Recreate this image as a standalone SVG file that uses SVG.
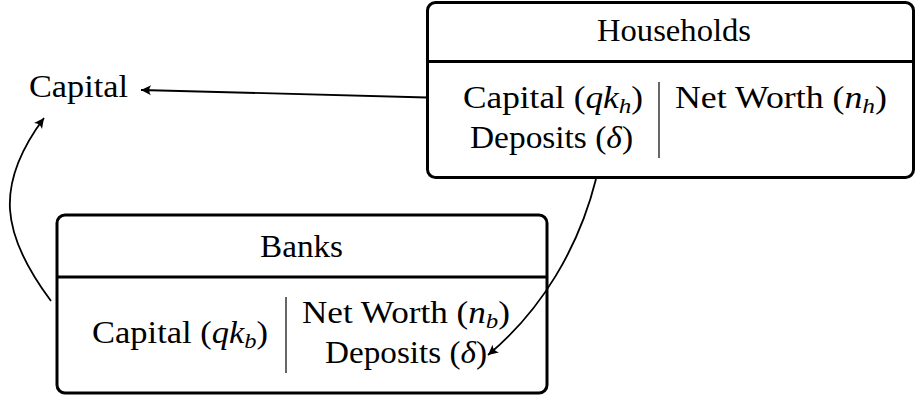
<svg xmlns="http://www.w3.org/2000/svg" width="915" height="400" viewBox="0 0 915 400">
<style>
.box{fill:#fff;stroke:#000;stroke-width:3}
.div{stroke:#000;stroke-width:3}
.vl{stroke:#000;stroke-width:1.2}
.t{font-family:'Liberation Serif','DejaVu Serif',serif;font-size:31px;fill:#000}
.i{font-style:italic}
.s{font-style:italic;font-size:22px}
.c{fill:none;stroke:#000;stroke-width:1.8}
</style>
<defs>
<marker id="tip" markerUnits="userSpaceOnUse" viewBox="-12 -7 14 14" markerWidth="14" markerHeight="14" refX="0" refY="0" orient="auto">
<path d="M0,0 L-10,-5 Q-6.5,0 -10,5 Z" fill="#000"/>
</marker>
</defs>
<rect width="915" height="400" fill="#fff"/>
<g id="capital">
<text class="t" font-family="Liberation Serif, DejaVu Serif, serif" x="29" y="97" textLength="99" lengthAdjust="spacingAndGlyphs">Capital</text>
</g>
<g id="households">
<rect class="box" x="427.5" y="2.5" width="486" height="175" rx="8"/>
<line class="div" x1="427.5" y1="61.5" x2="913.5" y2="61.5"/>
<line class="vl" x1="659" y1="82" x2="659" y2="158"/>
<text class="t" x="597" y="41" textLength="154" lengthAdjust="spacingAndGlyphs">Households</text>
<text class="t" x="463" y="108" textLength="180" lengthAdjust="spacingAndGlyphs">Capital (<tspan class="i">qk</tspan><tspan class="s" dy="5">h</tspan><tspan dy="-5">)</tspan></text>
<text class="t" x="470" y="148" textLength="163" lengthAdjust="spacingAndGlyphs">Deposits (<tspan class="i">δ</tspan>)</text>
<text class="t" x="675" y="108" textLength="212" lengthAdjust="spacingAndGlyphs">Net Worth (<tspan class="i">n</tspan><tspan class="s" dy="5">h</tspan><tspan dy="-5">)</tspan></text>
</g>
<g id="banks">
<rect class="box" x="57" y="215" width="490" height="178" rx="8"/>
<line class="div" x1="57" y1="277" x2="547" y2="277"/>
<line class="vl" x1="286" y1="297" x2="286" y2="373"/>
<text class="t" x="260" y="257" textLength="83" lengthAdjust="spacingAndGlyphs">Banks</text>
<text class="t" x="92" y="343" textLength="176" lengthAdjust="spacingAndGlyphs">Capital (<tspan class="i">qk</tspan><tspan class="s" dy="5">b</tspan><tspan dy="-5">)</tspan></text>
<text class="t" x="302" y="323" textLength="208" lengthAdjust="spacingAndGlyphs">Net Worth (<tspan class="i">n</tspan><tspan class="s" dy="5">b</tspan><tspan dy="-5">)</tspan></text>
<text class="t" x="325" y="363" textLength="162" lengthAdjust="spacingAndGlyphs">Deposits (<tspan class="i">δ</tspan>)</text>
</g>
<g id="connectors">
<path class="c" d="M427,97.5 L141,90" marker-end="url(#tip)"/>
<path class="c" d="M51,301 C1,234 -6,185 44,118" marker-end="url(#tip)"/>
<path class="c" d="M596,179 C579,247 542,310 488,355" marker-end="url(#tip)"/>
</g>
</svg>
